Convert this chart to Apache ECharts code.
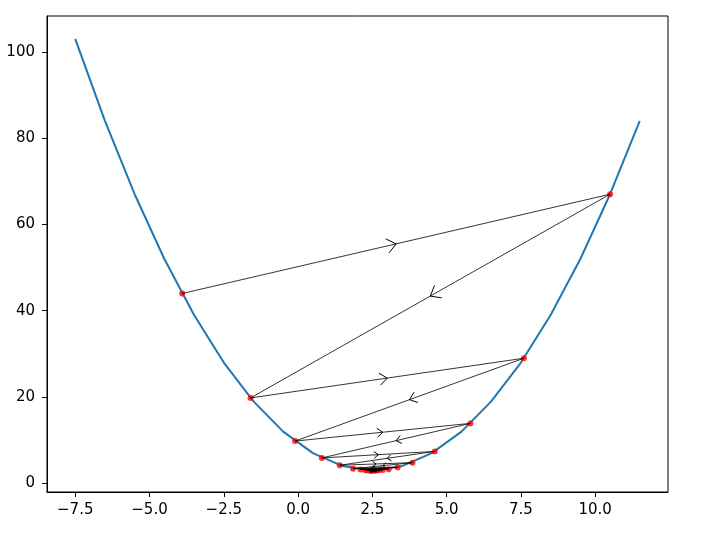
<!DOCTYPE html>
<html>
<head>
<meta charset="utf-8">
<script src="https://cdn.jsdelivr.net/npm/echarts@6/dist/echarts.min.js"></script>
<style>
  html, body { margin: 0; padding: 0; background: #fff; }
  #chart { width: 708px; height: 550px; }
</style>
</head>
<body>
<div id="chart"></div>
<script>
  // parabola drawn as a polyline (vertices)
  const curveX = [-7.5, -6.5, -5.5, -4.5, -3.5, -2.5, -1.5, -0.5, 0.5, 1.5, 2.5, 3.5, 4.5, 5.5, 6.5, 7.5, 8.5, 9.5, 10.5, 11.5];
  const curveY = [103, 84, 67, 52, 39, 28, 19, 12, 7, 4, 3, 4, 7, 12, 19, 28, 39, 52, 67, 84];

  // descent steps (red dots), in visiting order
  const stepX = [-3.9, 10.5, -1.6, 7.6, -0.1, 5.8, 0.8, 4.6, 1.4, 3.85, 1.85, 3.35, 2.1, 3.05, 2.25, 2.85, 2.33, 2.72, 2.4, 2.63, 2.44, 2.57, 2.47, 2.54, 2.48, 2.52];
  const stepY = [44, 67, 19.8, 29.0, 9.8, 13.9, 5.9, 7.4, 4.2, 4.8, 3.4, 3.7, 3.2, 3.3, 3.1, 3.1, 3.0, 3.05, 3.0, 3.0, 3.0, 3.0, 3.0, 3.0, 3.0, 3.0];

  const xTicks = [-7.5, -5.0, -2.5, 0.0, 2.5, 5.0, 7.5, 10.0];
  const yTicks = [0, 20, 40, 60, 80, 100];

  const curveData = curveX.map((x, i) => [x, curveY[i]]);
  const stepData = stepX.map((x, i) => [x, stepY[i]]);
  const segData = [];
  for (let i = 0; i < stepX.length - 1; i++) {
    segData.push([stepX[i], stepY[i], stepX[i + 1], stepY[i + 1]]);
  }

  const fmt = v => String(v).replace('-', '\u2212');

  const myChart = echarts.init(document.getElementById('chart'));
  const font = { fontFamily: 'DejaVu Sans', fontSize: 15, color: '#000' };

  const option = {
    animation: false,
    grid: {
      left: 47, right: 40, top: 16, bottom: 58,
      show: true, borderColor: '#000', borderWidth: 1,
      outerBoundsMode: 'none'
    },
    xAxis: {
      type: 'value',
      min: -8.45,
      max: 12.45,
      axisLine: { show: true, onZero: false, lineStyle: { color: '#000', width: 1 } },
      axisTick: { show: true, inside: false, length: 5, customValues: xTicks, lineStyle: { color: '#000' } },
      axisLabel: {
        ...font, margin: 11, customValues: xTicks,
        formatter: v => fmt(v.toFixed(1))
      },
      splitLine: { show: false }
    },
    yAxis: {
      type: 'value',
      min: -2,
      max: 108.3,
      axisLine: { show: true, onZero: false, lineStyle: { color: '#000', width: 1 } },
      axisTick: { show: true, inside: false, length: 5, customValues: yTicks, lineStyle: { color: '#000' } },
      axisLabel: {
        ...font, margin: 12, customValues: yTicks,
        formatter: v => fmt(v)
      },
      splitLine: { show: false }
    },
    series: [
      {
        type: 'line',
        data: curveData,
        symbol: 'none',
        lineStyle: { color: '#1f77b4', width: 2 },
        z: 1
      },
      {
        type: 'scatter',
        data: stepData,
        symbol: 'circle',
        symbolSize: 6,
        itemStyle: { color: '#ff0000' },
        z: 2
      },
      {
        type: 'custom',
        data: segData,
        encode: { x: [0, 2], y: [1, 3] },
        z: 3,
        renderItem: function (params, api) {
          const p1 = api.coord([api.value(0), api.value(1)]);
          const p2 = api.coord([api.value(2), api.value(3)]);
          const dx = p2[0] - p1[0], dy = p2[1] - p1[1];
          const len = Math.sqrt(dx * dx + dy * dy) || 1;
          const ux = dx / len, uy = dy / len;
          const mx = (p1[0] + p2[0]) / 2, my = (p1[1] + p2[1]) / 2;
          const h = Math.min(9, 2 + len * 0.02);
          const w = h * 0.8;
          const a = [mx - ux * h - uy * w, my - uy * h + ux * w];
          const b = [mx - ux * h + uy * w, my - uy * h - ux * w];
          return {
            type: 'group',
            children: [
              {
                type: 'line',
                shape: { x1: p1[0], y1: p1[1], x2: p2[0], y2: p2[1] },
                style: { stroke: '#000', lineWidth: 0.8 }
              },
              {
                type: 'polyline',
                shape: { points: [a, [mx, my], b] },
                style: { stroke: '#000', lineWidth: 1, fill: null }
              }
            ]
          };
        }
      }
    ]
  };
  myChart.setOption(option);
</script>
</body>
</html>
